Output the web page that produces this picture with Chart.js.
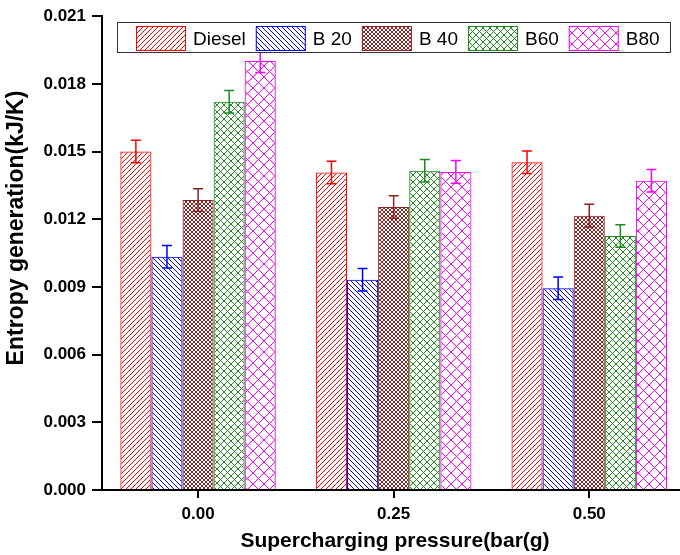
<!DOCTYPE html>
<html>
<head>
<meta charset="utf-8">
<script src="https://cdn.jsdelivr.net/npm/chart.js@4/dist/chart.umd.min.js"></script>
<style>
  html, body { margin: 0; padding: 0; background: #fff; overflow: hidden; }
  canvas { display: block; }
</style>
</head>
<body>
<canvas id="chart" width="680" height="555"></canvas>
<script>
// --- data ---
const PRESSURES = [0, 0.25, 0.5];
const X_TICKS = [0, 0.25, 0.5];
const Y_TICKS = [0, 0.003, 0.006, 0.009, 0.012, 0.015, 0.018, 0.021];
const SERIES = ['Diesel', 'B 20', 'B 40', 'B60', 'B80'];

const DIESEL = [0.0150, 0.01407, 0.01453];
const B20 = [0.01034, 0.00932, 0.00894];
const B40 = [0.01285, 0.01254, 0.01216];
const B60 = [0.01721, 0.01415, 0.01126];
const B80 = [0.01901, 0.01410, 0.01371];

const DIESEL_ERR = [0.0005, 0.0005, 0.0005];
const B20_ERR = [0.0005, 0.0005, 0.0005];
const B40_ERR = [0.0005, 0.0005, 0.0005];
const B60_ERR = [0.0005, 0.0005, 0.0005];
const B80_ERR = [0.0005, 0.0005, 0.0005];

const FONT = "'Liberation Sans', Arial, sans-serif";
const RED = '#FF0000', BLUE = '#0000FF', MAROON = '#8B2323', GREEN = '#1E8C1E', MAGENTA = '#FF00FF';

// hatch tiles: '/' forward, '\' back, 'x' both
function hatch(color, size, kind) {
  const c = document.createElement('canvas');
  c.width = size; c.height = size;
  const g = c.getContext('2d');
  g.strokeStyle = color; g.lineWidth = 1;
  g.beginPath();
  if (kind === '/' || kind === 'x') {
    g.moveTo(0, size); g.lineTo(size, 0);
    g.moveTo(-1, 1); g.lineTo(1, -1);
    g.moveTo(size - 1, size + 1); g.lineTo(size + 1, size - 1);
  }
  if (kind === '\\' || kind === 'x') {
    g.moveTo(0, 0); g.lineTo(size, size);
    g.moveTo(size - 1, -1); g.lineTo(size + 1, 1);
    g.moveTo(-1, size - 1); g.lineTo(1, size + 1);
  }
  g.stroke();
  return g.createPattern(c, 'repeat');
}

const STYLE = [
  { color: RED, fill: hatch(RED, 5, '/') },
  { color: BLUE, fill: hatch(BLUE, 5, '\\') },
  { color: MAROON, fill: hatch(MAROON, 4, 'x') },
  { color: GREEN, fill: hatch(GREEN, 7, 'x') },
  { color: MAGENTA, fill: hatch(MAGENTA, 11, 'x') },
];
const VALUES = [DIESEL, B20, B40, B60, B80];
const ERRORS = [DIESEL_ERR, B20_ERR, B40_ERR, B60_ERR, B80_ERR];

const datasets = SERIES.map((name, i) => ({
  label: name,
  data: VALUES[i].map((v, j) => ({ x: PRESSURES[j], y: v })),
  errors: ERRORS[i],
  backgroundColor: STYLE[i].fill,
  borderColor: STYLE[i].color,
  borderWidth: 1,
  categoryPercentage: 0.795,
  barPercentage: 1,
}));

const errorBars = {
  id: 'errorBars',
  afterDatasetsDraw(chart) {
    const ctx = chart.ctx, y = chart.scales.y;
    ctx.save();
    ctx.lineWidth = 1.5;
    chart.data.datasets.forEach((ds, i) => {
      const meta = chart.getDatasetMeta(i);
      ctx.strokeStyle = ds.borderColor;
      meta.data.forEach((bar, j) => {
        const v = ds.data[j].y, e = ds.errors[j];
        const top = y.getPixelForValue(v + e), bot = y.getPixelForValue(v - e);
        ctx.beginPath();
        ctx.moveTo(bar.x, top); ctx.lineTo(bar.x, bot);
        ctx.moveTo(bar.x - 5, top); ctx.lineTo(bar.x + 5, top);
        ctx.moveTo(bar.x - 5, bot); ctx.lineTo(bar.x + 5, bot);
        ctx.stroke();
      });
    });
    ctx.restore();
  },
};

// boxed legend + axis titles, drawn last so the legend covers what sits under it
const frame = {
  id: 'frame',
  afterDraw(chart) {
    const ctx = chart.ctx;
    ctx.save();
    ctx.fillStyle = '#fff';
    ctx.fillRect(117, 22, 553, 31);
    ctx.strokeStyle = '#333'; ctx.lineWidth = 1;
    ctx.strokeRect(117.5, 22.5, 553, 30);
    ctx.font = `19px ${FONT}`;
    ctx.textBaseline = 'middle';
    ctx.textAlign = 'left';
    let x = 136;
    chart.data.datasets.forEach((ds) => {
      ctx.fillStyle = ds.backgroundColor;
      ctx.fillRect(x, 26, 50, 25);
      ctx.strokeStyle = ds.borderColor;
      ctx.strokeRect(x + 0.5, 26.5, 49, 24);
      ctx.fillStyle = '#000';
      ctx.fillText(ds.label, x + 57, 39.5);
      x += 57 + ctx.measureText(ds.label).width + 10;
    });

    ctx.fillStyle = '#000';
    ctx.font = `bold 21px ${FONT}`;
    ctx.textAlign = 'center';
    ctx.fillText('Supercharging pressure(bar(g)', 395, 541);
    ctx.translate(17, 228);
    ctx.rotate(-Math.PI / 2);
    ctx.font = `bold 23px ${FONT}`;
    ctx.fillText('Entropy generation(kJ/K)', 0, 0);
    ctx.restore();
  },
};

new Chart(document.getElementById('chart'), {
  type: 'bar',
  data: { datasets },
  options: {
    responsive: false,
    animation: false,
    layout: { padding: { left: 0, top: 14, right: 0, bottom: 0 } },
    plugins: { legend: { display: false }, tooltip: { enabled: false } },
    scales: {
      x: {
        type: 'linear',
        offset: false,
        min: -0.1228, max: 0.616,
        afterBuildTicks: (s) => { s.ticks = X_TICKS.map((v) => ({ value: v })); },
        afterFit: (s) => { s.height = 65; },
        ticks: { color: '#000', font: { family: FONT, size: 17, weight: 'bold' }, padding: 6, callback: (v) => v.toFixed(2) },
        grid: { offset: false, drawOnChartArea: false, drawTicks: true, tickLength: 8, color: '#000', lineWidth: 2 },
        border: { display: true, color: '#000', width: 2 },
      },
      y: {
        min: 0, max: 0.021,
        afterBuildTicks: (s) => { s.ticks = Y_TICKS.map((v) => ({ value: v })); },
        afterFit: (s) => { s.width = 102; },
        ticks: { color: '#000', font: { family: FONT, size: 17, weight: 'bold' }, padding: 6, callback: (v) => v.toFixed(3) },
        grid: { drawOnChartArea: false, drawTicks: true, tickLength: 10, color: '#000', lineWidth: 2 },
        border: { display: true, color: '#000', width: 2 },
      },
    },
  },
  plugins: [errorBars, frame],
});
</script>
</body>
</html>
